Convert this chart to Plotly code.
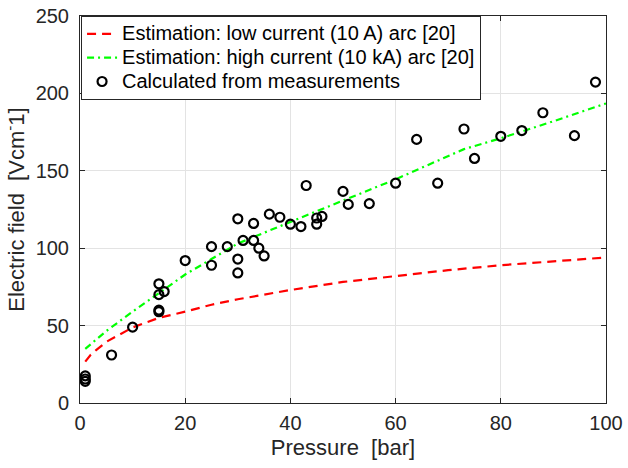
import plotly.graph_objects as go

# Estimation curves
p_low = [1, 2, 3, 5, 10, 15, 20, 25, 30, 40, 50, 60, 70, 80, 90, 100]
e_low = [26.7, 31, 34, 39.5, 48.8, 55, 59, 63.5, 67, 73, 78.2, 82.2, 85.8, 89, 91.6, 94]

p_high = [1, 5, 10, 15, 20, 25, 30, 40, 50, 60, 73, 80, 90, 100]
e_high = [35, 46.5, 59, 71, 83, 93, 103, 117, 130.5, 144.5, 164, 171, 182, 193.5]

# Calculated from measurements
p_meas = [1, 1, 1, 6, 10, 15, 15, 15, 15, 16, 20, 25, 25, 28, 30, 30, 30, 31, 33, 33,
          34, 35, 36, 38, 40, 42, 43, 45, 45, 46, 50, 51, 55, 60, 64, 68, 73, 75, 80,
          84, 88, 94, 98]
e_meas = [17.5, 15.5, 14, 31, 49, 77, 70, 60, 59, 72, 92, 101, 89, 101, 119, 93, 84, 105,
          116, 105, 100, 95, 122, 120, 115.5, 114, 140.5, 119.5, 115.5, 120.5, 136.7, 128.3,
          128.8, 142, 170.3, 142, 177, 158, 172.3, 176, 187.5, 172.7, 207.3]

x_ticks = [0, 20, 40, 60, 80, 100]
y_ticks = [0, 50, 100, 150, 200, 250]

FONT = "Liberation Sans, Arial, sans-serif"
AX = "#262626"


def leg(t):
    # text drawn at 20px while the legend rows are spaced as for a smaller font
    return f'<span style="font-size:20px">{t}</span>'


fig = go.Figure()
fig.add_trace(go.Scatter(
    x=p_low, y=e_low, mode="lines",
    name=leg("Estimation: low current (10 A) arc [20]"),
    line=dict(color="#ff0000", width=2.2, dash="9px,6px"),
))
fig.add_trace(go.Scatter(
    x=p_high, y=e_high, mode="lines",
    name=leg("Estimation: high current (10 kA) arc [20]"),
    line=dict(color="#00ff00", width=2.2, dash="7px,4px,2px,4px"),
))
fig.add_trace(go.Scatter(
    x=p_meas, y=e_meas, mode="markers",
    name=leg("Calculated from measurements"),
    marker=dict(symbol="circle-open", size=9, color="black", line=dict(width=2.2, color="black")),
))

axis_common = dict(
    showline=True, linecolor=AX, linewidth=1, mirror="ticks",
    ticks="inside", ticklen=5, tickcolor=AX, tickwidth=1,
    showgrid=True, gridcolor="#e3e3e3", gridwidth=1,
    zeroline=False, automargin=False, ticklabeloverflow="allow",
    tickfont=dict(family=FONT, size=20, color=AX),
)

fig.update_layout(
    width=628, height=468,
    margin=dict(l=80, r=22, t=16, b=65),
    paper_bgcolor="white", plot_bgcolor="white",
    font=dict(family=FONT, color=AX),
    showlegend=True,
    legend=dict(
        x=0.002, y=1.0, xanchor="left", yanchor="top",
        bgcolor="white", bordercolor=AX, borderwidth=1,
        font=dict(family=FONT, size=16, color="black"),
        tracegroupgap=0, itemwidth=30,
    ),
    xaxis=dict(
        range=[0, 100], tickvals=x_ticks, ticklabelstandoff=2,
        title=dict(text="Pressure  [bar]", font=dict(family=FONT, size=22, color=AX), standoff=6),
        **axis_common,
    ),
    yaxis=dict(
        range=[0, 250], tickvals=y_ticks, ticklabelstandoff=6,
        title=dict(text="Electric field  [Vcm<sup>-</sup>1]", font=dict(family=FONT, size=22, color=AX), standoff=4),
        **axis_common,
    ),
)

# remove the default page margin so the 628x468 figure fills the window exactly
fig.write_html("out.html", config={"displayModeBar": False},
               post_script="document.body.style.margin='0';")
